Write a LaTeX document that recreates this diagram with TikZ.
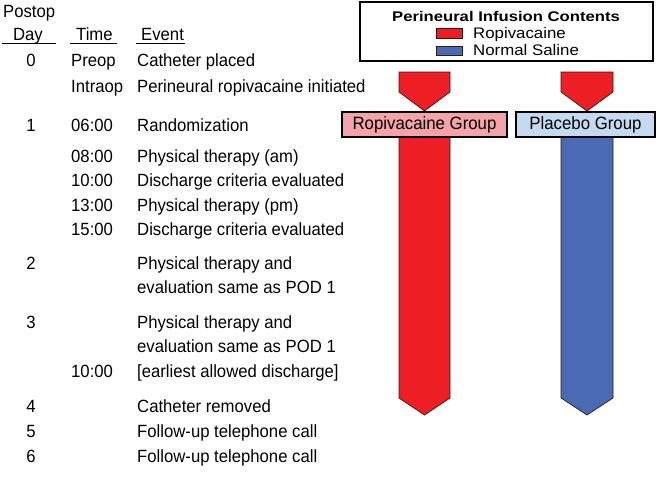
\documentclass[tikz,border=0pt]{standalone}
\usepackage{fontspec}
\usepackage{graphicx}
\setmainfont{Liberation Sans}
\definecolor{ropired}{RGB}{237,30,36}
\definecolor{salblue}{RGB}{74,107,180}
\definecolor{pinkbox}{RGB}{244,163,168}
\definecolor{lbluebox}{RGB}{196,218,240}
\definecolor{outl}{RGB}{50,25,25}
\newcommand{\rowtext}[1]{\scalebox{1}[1.06]{#1}}
\tikzset{
  txt/.style={inner sep=0pt, font=\fontsize{16.7}{19}\selectfont},
  daynum/.style={txt, anchor=base},
  tcol/.style={txt, anchor=base west},
  ecol/.style={txt, anchor=base west},
  ulin/.style={line width=1pt},
  grpbox/.style={draw=black, line width=2pt, inner sep=0pt, font=\fontsize{16.8}{19}\selectfont},
  bar/.style={draw=outl, line width=0.7pt},
}
\begin{document}
\begin{tikzpicture}[x=1pt,y=-1pt]
\useasboundingbox (0,0) rectangle (661,488);
% header
\node[tcol] (postop) at (3,17) {\rowtext{Postop}};
\node[daynum] (hday) at (28,40) {\rowtext{Day}};
\node[tcol] (htime) at (76,40) {\rowtext{Time}};
\node[tcol] (hevent) at (141,40) {\rowtext{Event}};
\draw[ulin] (2,43) -- (56,43);
\draw[ulin] (70,43) -- (117,43);
\draw[ulin] (136,43) -- (185,43);
% rows
\node[daynum] (d0) at (31,66) {\rowtext{0}};
\node[tcol] (t0a) at (71,66) {\rowtext{Preop}};
\node[ecol] (e0a) at (137,66) {\rowtext{Catheter placed}};
\node[tcol] (t0b) at (71,92) {\rowtext{Intraop}};
\node[ecol] (e0b) at (137,92) {\rowtext{Perineural ropivacaine initiated}};
\node[daynum] (d1) at (31,131) {\rowtext{1}};
\node[tcol] (t1a) at (71,131) {\rowtext{06:00}};
\node[ecol] (e1a) at (137,131) {\rowtext{Randomization}};
\node[tcol] (t1b) at (71,162) {\rowtext{08:00}};
\node[ecol] (e1b) at (137,162) {\rowtext{Physical therapy (am)}};
\node[tcol] (t1c) at (71,186) {\rowtext{10:00}};
\node[ecol] (e1c) at (137,186) {\rowtext{Discharge criteria evaluated}};
\node[tcol] (t1d) at (71,211) {\rowtext{13:00}};
\node[ecol] (e1d) at (137,211) {\rowtext{Physical therapy (pm)}};
\node[tcol] (t1e) at (71,235) {\rowtext{15:00}};
\node[ecol] (e1e) at (137,235) {\rowtext{Discharge criteria evaluated}};
\node[daynum] (d2) at (31,269) {\rowtext{2}};
\node[ecol] (e2a) at (137,269) {\rowtext{Physical therapy and}};
\node[ecol] (e2b) at (137,293) {\rowtext{evaluation same as POD 1}};
\node[daynum] (d3) at (31,328) {\rowtext{3}};
\node[ecol] (e3a) at (137,328) {\rowtext{Physical therapy and}};
\node[ecol] (e3b) at (137,352) {\rowtext{evaluation same as POD 1}};
\node[tcol] (t3c) at (71,377) {\rowtext{10:00}};
\node[ecol] (e3c) at (137,377) {\rowtext{[earliest allowed discharge]}};
\node[daynum] (d4) at (31,412) {\rowtext{4}};
\node[ecol] (e4) at (137,412) {\rowtext{Catheter removed}};
\node[daynum] (d5) at (31,437) {\rowtext{5}};
\node[ecol] (e5) at (137,437) {\rowtext{Follow-up telephone call}};
\node[daynum] (d6) at (31,462) {\rowtext{6}};
\node[ecol] (e6) at (137,462) {\rowtext{Follow-up telephone call}};
% legend
\draw[line width=2.5pt] (360,2) rectangle (653,61);
\node[txt, anchor=base] (legtitle) at (506,21) {\scalebox{1.19}[1]{\fontsize{14}{17}\selectfont\bfseries Perineural Infusion Contents}};
\draw[bar, fill=ropired] (436,28) rectangle (462,38);
\node[txt, anchor=base west] (legr) at (473,38) {\scalebox{1.1}[1]{\fontsize{15.3}{18}\selectfont Ropivacaine}};
\draw[bar, fill=salblue] (436,46) rectangle (462,55);
\node[txt, anchor=base west] (legb) at (473,55.5) {\scalebox{1.1}[1]{\fontsize{15.3}{18}\selectfont Normal Saline}};
% top pentagons
\draw[bar, fill=ropired] (399,72) -- (450,72) -- (450,92) -- (424.5,111) -- (399,92) -- cycle;
\draw[bar, fill=ropired] (561,72) -- (613,72) -- (613,92) -- (587,111) -- (561,92) -- cycle;
% long bars
\draw[bar, fill=ropired] (399,137) -- (450,137) -- (450,398) -- (424.5,415) -- (399,398) -- cycle;
\draw[bar, fill=salblue] (561,137) -- (613,137) -- (613,398) -- (587,415) -- (561,398) -- cycle;
% group boxes
\node[grpbox, fill=pinkbox, minimum width=165pt, minimum height=25pt] (rgrp) at (424.5,124.5) {\scalebox{1}[1.06]{Ropivacaine Group}};
\node[grpbox, fill=lbluebox, minimum width=139pt, minimum height=25pt] (pgrp) at (585.5,124.5) {\scalebox{1}[1.06]{Placebo Group}};
\end{tikzpicture}
\end{document}
